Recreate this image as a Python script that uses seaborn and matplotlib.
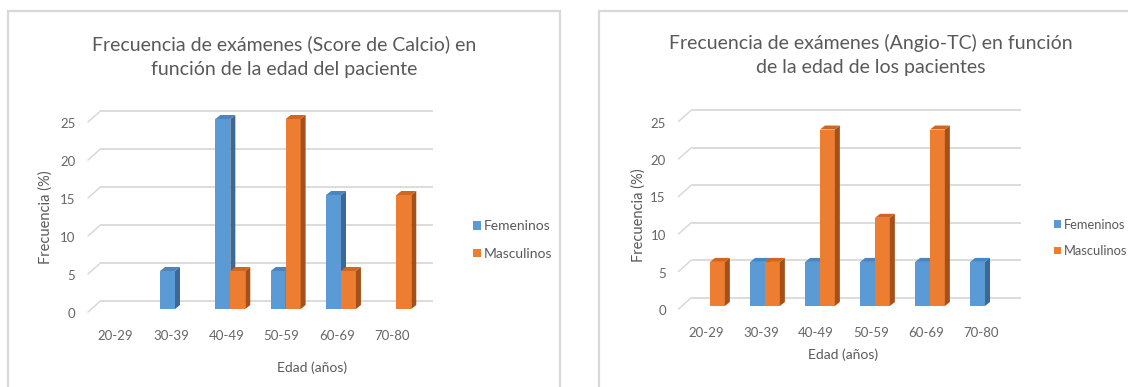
import matplotlib
matplotlib.use("Agg")
import matplotlib.pyplot as plt
import pandas as pd
import seaborn as sns
from matplotlib.patches import Polygon, Rectangle, Patch
from matplotlib.transforms import ScaledTranslation

# ---- data -------------------------------------------------------------
age_groups = ["20-29", "30-39", "40-49", "50-59", "60-69", "70-80"]
series = ["Femeninos", "Masculinos"]

calcio_fem = [0, 5, 25, 5, 15, 0]
calcio_masc = [0, 0, 5, 25, 5, 15]

angio_fem = [0, 5.88, 5.88, 5.88, 5.88, 5.88]
angio_masc = [5.88, 5.88, 23.53, 11.76, 23.53, 0]

titles = [
    "Frecuencia de exámenes (Score de Calcio) en\nfunción de la edad del paciente",
    "Frecuencia de exámenes (Angio-TC) en función\nde la edad de los pacientes",
]
y_label = "Frecuencia (%)"
x_label = "Edad (años)"
y_ticks = [0, 5, 10, 15, 20, 25]

# ---- style ------------------------------------------------------------
FRONT = {"Femeninos": "#5b9bd5", "Masculinos": "#ed7d31"}
TOP = {"Femeninos": "#4a85c0", "Masculinos": "#d2661f"}
SIDE = {"Femeninos": "#3b6895", "Masculinos": "#a4501b"}
GRID = "#d9d9d9"
TEXT = "#595959"
TICK = "#666666"

sns.set_theme(style="white")
plt.rcParams["font.family"] = ["Lato", "DejaVu Sans"]

W, H = 1128, 387
fig = plt.figure(figsize=(W / 100, H / 100), dpi=100)
fig.patch.set_facecolor("white")


def frac(x, y):
    return x / W, 1 - y / H


# panel geometry in pixels
panels = [
    dict(fem=calcio_fem, masc=calcio_masc, title=titles[0],
         box=(8, 11, 560), ax=(92, 424, 309, 119),
         title_xy=(284, 57), ylab_xy=(46, 217), xlab_xy=(312, 368),
         leg_xy=(473, 240), leg_size=10),
    dict(fem=angio_fem, masc=angio_masc, title=titles[1],
         box=(599, 11, 1140), ax=(682.5, 1012.5, 306, 118.5),
         title_xy=(871, 55), ylab_xy=(639, 215), xlab_xy=(843, 355),
         leg_xy=(1054, 238), leg_size=9.3),
]

for pn in panels:
    # panel frame
    bx0, by0, bx1 = pn["box"]
    fx0, fy0 = frac(bx0, by0)
    fx1, _ = frac(bx1, by0)
    fig.add_artist(Rectangle((fx0, -0.1), fx1 - fx0, fy0 + 0.1,
                             transform=fig.transFigure, fill=False,
                             ec=GRID, lw=1.6, zorder=0))

    left, right, y0, y25 = pn["ax"]
    ax = fig.add_axes([left / W, 1 - y0 / H, (right - left) / W, (y0 - y25) / H])
    ax.set_facecolor("none")

    df = pd.DataFrame({
        "Edad": age_groups * 2,
        "Frecuencia": list(pn["fem"]) + list(pn["masc"]),
        "Sexo": [series[0]] * len(age_groups) + [series[1]] * len(age_groups),
    })
    sns.barplot(data=df, x="Edad", y="Frecuencia", hue="Sexo",
                order=age_groups, hue_order=series, palette=FRONT,
                saturation=1, width=0.54, legend=False, ax=ax,
                linewidth=0, edgecolor="none")
    ax.set_xlim(-0.5, len(age_groups) - 0.5)
    ax.set_ylim(0, 25)
    for s in ax.spines.values():
        s.set_visible(False)

    # pixel -> data unit scale
    o = ax.transData.transform((0, 0))
    ppx = ax.transData.transform((1, 0))[0] - o[0]
    ppy = ax.transData.transform((0, 1))[1] - o[1]

    # back-wall gridlines with the floor/side-wall slant
    gdx, gdy = 9 / ppx, 8.5 / ppy
    xl, xr = -0.5, len(age_groups) - 0.5
    for v in y_ticks:
        ax.plot([xl + gdx, xr + gdx], [v + gdy, v + gdy], color=GRID,
                lw=1.3, clip_on=False, zorder=0.5, solid_capstyle="butt")
        ax.plot([xl - 4 / ppx, xl + gdx], [v - 3 / ppy, v + gdy], color=GRID,
                lw=1.1, clip_on=False, zorder=0.5)

    # depth faces for each column
    ddx, ddy = 5 / ppx, 4 / ppy
    front_rgb = {k: matplotlib.colors.to_rgb(c) for k, c in FRONT.items()}
    for p in list(ax.patches):
        h = p.get_height()
        fc = tuple(round(c, 3) for c in p.get_facecolor()[:3])
        name = min(series, key=lambda k: sum(abs(a - b) for a, b in zip(front_rgb[k], fc)))
        z = 2 if name == series[0] else 3
        p.set_zorder(z)
        if h <= 0:
            continue
        x0 = p.get_x()
        x1 = x0 + p.get_width()
        side = [(x1, 0), (x1, h), (x1 + ddx, h + ddy), (x1 + ddx, ddy)]
        top = [(x0, h), (x1, h), (x1 + ddx, h + ddy), (x0 + ddx, h + ddy)]
        ax.add_patch(Polygon(side, closed=True, fc=SIDE[name], ec="none",
                             clip_on=False, zorder=z + 0.5))
        ax.add_patch(Polygon(top, closed=True, fc=TOP[name], ec="none",
                             clip_on=False, zorder=z + 0.5))

    # ticks
    ax.set_yticks(y_ticks)
    ax.set_yticklabels([str(v) for v in y_ticks])
    ax.set_xticks(range(len(age_groups)))
    ax.set_xticklabels(age_groups)
    ax.tick_params(axis="y", length=0, pad=12, labelsize=9.5, labelcolor=TICK)
    ax.tick_params(axis="x", length=0, pad=15, labelsize=9.5, labelcolor=TICK)
    for lab in ax.get_yticklabels():
        lab.set_transform(lab.get_transform() + ScaledTranslation(0, -0.04, fig.dpi_scale_trans))
    for lab in ax.get_xticklabels():
        lab.set_transform(lab.get_transform() + ScaledTranslation(-0.04, 0, fig.dpi_scale_trans))
    ax.set_xlabel("")
    ax.set_ylabel("")

    # titles and axis labels
    tx, ty = frac(*pn["title_xy"])
    fig.text(tx, ty, pn["title"], ha="center", va="center", fontsize=14,
             color=TEXT, linespacing=1.55)
    lx, ly = frac(*pn["ylab_xy"])
    fig.text(lx, ly, y_label, ha="center", va="center", rotation=90,
             fontsize=10.5, color=TEXT)
    xx, xy = frac(*pn["xlab_xy"])
    fig.text(xx, xy, x_label, ha="center", va="center", fontsize=10, color=TEXT)

    # legend
    handles = [Patch(fc=FRONT[s], ec="none", label=s) for s in series]
    fig.legend(handles=handles, loc="center left",
               bbox_to_anchor=frac(*pn["leg_xy"]), frameon=False,
               fontsize=pn["leg_size"], labelcolor=TEXT, handlelength=0.55,
               handleheight=0.55, handletextpad=0.2, labelspacing=1.1,
               borderpad=0, borderaxespad=0)

fig.savefig("out.png", dpi=100, facecolor="white")
